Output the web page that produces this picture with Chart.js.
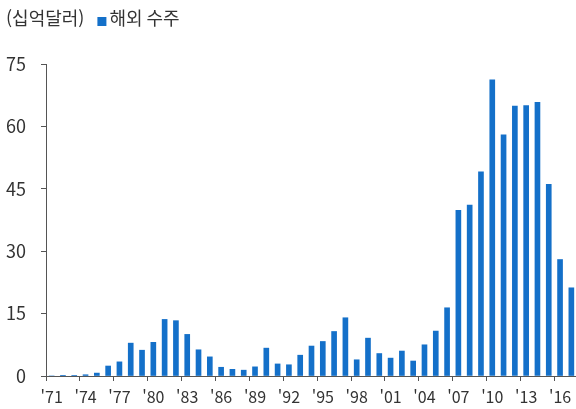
<!DOCTYPE html>
<html lang="ko">
<head>
<meta charset="utf-8">
<script src="https://cdn.jsdelivr.net/npm/chart.js@4.4.1/dist/chart.umd.min.js"></script>
<style>
  html, body { margin: 0; padding: 0; background: #fff; overflow: hidden; }
  #wrap { width: 578px; height: 409px; }
</style>
</head>
<body>
<div id="wrap"><canvas id="c" width="578" height="409"></canvas></div>
<script>
// Overseas construction orders, billions of USD, 1971-2017
const years = [
  1971, 1972, 1973, 1974, 1975, 1976, 1977, 1978, 1979, 1980,
  1981, 1982, 1983, 1984, 1985, 1986, 1987, 1988, 1989, 1990,
  1991, 1992, 1993, 1994, 1995, 1996, 1997, 1998, 1999, 2000,
  2001, 2002, 2003, 2004, 2005, 2006, 2007, 2008, 2009, 2010,
  2011, 2012, 2013, 2014, 2015, 2016, 2017
];
const orders = [
  0.0, 0.05, 0.15, 0.3, 0.7, 2.4, 3.4, 7.9, 6.2, 8.1,
  13.6, 13.3, 10.0, 6.3, 4.6, 2.1, 1.6, 1.4, 2.2, 6.7,
  2.9, 2.7, 5.0, 7.2, 8.3, 10.7, 14.0, 3.9, 9.1, 5.4,
  4.3, 6.0, 3.6, 7.5, 10.8, 16.4, 39.8, 41.1, 49.1, 71.2,
  58.0, 64.9, 65.0, 65.8, 46.1, 28.0, 21.2
];
const tickLabels = years.map(y => "'" + String(y % 100).padStart(2, '0'));
const yTicks = [0, 15, 30, 45, 60, 75];

const unitLabel = '(십억달러)';
const seriesName = '해외 수주';
const barColor = '#1470c9';
const FONT = '"Noto Sans CJK KR", "Noto Sans", sans-serif';

// Unit caption and single legend entry drawn along the top-left edge
const headerPlugin = {
  id: 'header',
  afterDraw(chart) {
    const ctx = chart.ctx;
    ctx.save();
    ctx.font = '18px ' + FONT;
    ctx.fillStyle = '#333';
    ctx.textBaseline = 'middle';
    ctx.textAlign = 'left';
    const y = 18;
    ctx.fillText(unitLabel, 6, y);
    const x0 = 6 + ctx.measureText(unitLabel).width + 13;
    ctx.fillStyle = chart.data.datasets[0].backgroundColor;
    ctx.fillRect(x0, 17, 9, 9);
    ctx.fillStyle = '#333';
    ctx.fillText(chart.data.datasets[0].label, x0 + 12, y);
    ctx.restore();
  }
};

new Chart(document.getElementById('c'), {
  type: 'bar',
  data: {
    labels: tickLabels,
    datasets: [{
      label: seriesName,
      data: orders,
      backgroundColor: barColor,
      barThickness: 5
    }]
  },
  options: {
    responsive: false,
    animation: false,
    devicePixelRatio: 1,
    layout: { padding: { top: 64, left: 0, right: 1, bottom: 0 } },
    plugins: {
      legend: { display: false },
      tooltip: { enabled: false }
    },
    scales: {
      x: {
        grid: {
          offset: true,
          drawOnChartArea: false,
          drawTicks: true,
          tickLength: 5,
          color: ctx => (ctx.index % 3 === 0 ? '#555' : 'rgba(0,0,0,0)')
        },
        border: { display: true, color: '#555', width: 1 },
        ticks: {
          autoSkip: false,
          maxRotation: 0,
          minRotation: 0,
          padding: 6,
          color: '#333',
          font: { family: FONT, size: 16 },
          callback: function (value, index) {
            return index % 3 === 0 ? tickLabels[index] : '';
          }
        },
        afterFit(scale) { scale.height = 33; }
      },
      y: {
        min: 0,
        max: 75,
        afterBuildTicks(scale) { scale.ticks = yTicks.map(v => ({ value: v })); },
        grid: {
          drawOnChartArea: false,
          drawTicks: true,
          tickLength: 5,
          color: '#555'
        },
        border: { display: true, color: '#555', width: 1 },
        ticks: {
          padding: 15,
          color: '#333',
          font: { family: FONT, size: 18 }
        },
        afterFit(scale) { scale.width = 46; }
      }
    }
  },
  plugins: [headerPlugin]
});
</script>
</body>
</html>
